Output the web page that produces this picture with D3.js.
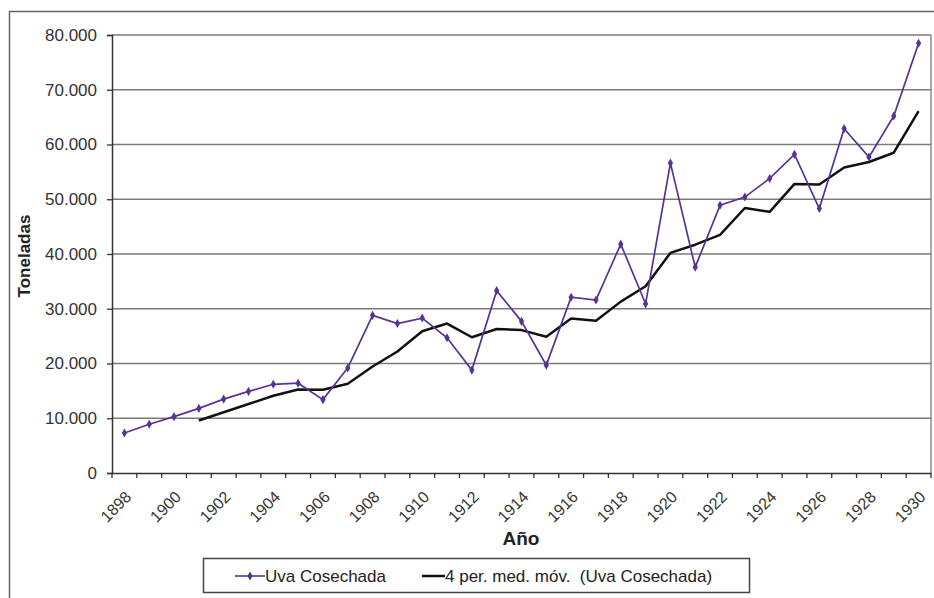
<!DOCTYPE html>
<html><head><meta charset="utf-8">
<script src="https://cdn.jsdelivr.net/npm/d3@7"></script>
<style>body{margin:0;background:#fff}svg{display:block;font-family:"Liberation Sans",Arial,sans-serif}</style>
</head><body><svg id="c" width="934" height="598"></svg>
<script>
const years = d3.range(1898, 1931);
const uva = [7.3,8.9,10.3,11.8,13.5,14.9,16.2,16.4,13.4,19.2,28.8,27.3,28.3,24.7,18.8,33.3,27.7,19.7,32.1,31.6,41.8,30.9,56.6,37.6,48.9,50.4,53.8,58.2,48.3,62.9,57.7,65.2,78.5].map(v=>v*1000);
const media = [null,null,null,9.6,11.1,12.6,14.1,15.25,15.2,16.3,19.45,22.2,25.9,27.3,24.8,26.3,26.1,24.9,28.2,27.8,31.3,34.1,40.2,41.7,43.5,48.4,47.7,52.8,52.7,55.8,56.8,58.5,66.1].map(v=>v==null?null:v*1000);
const yTicks = [0,10000,20000,30000,40000,50000,60000,70000,80000];
const xLabelYears = years.filter(y=>(y-1898)%2===0);
const seriesNames = ["Uva Cosechada","4 per. med. móv.  (Uva Cosechada)"];

const purple = "#573494";
const svg = d3.select("#c");
const L=112, R=931, T=35, B=473;

// outer border
svg.append("rect").attr("x",9.5).attr("y",11.5).attr("width",940).attr("height",600)
  .attr("fill","none").attr("stroke","#666").attr("stroke-width",1.5);

const x = d3.scaleBand().domain(years).range([L,R]);
const y = d3.scaleLinear().domain([0,80000]).range([B,T]);

// gridlines
svg.append("g").selectAll("line").data(yTicks.filter(d=>d>0)).join("line")
  .attr("x1",L).attr("x2",R).attr("y1",d=>y(d)).attr("y2",d=>y(d))
  .attr("stroke","#7a7a7a").attr("stroke-width",1.3);
// right frame
svg.append("line").attr("x1",R).attr("x2",R).attr("y1",T).attr("y2",B).attr("stroke","#7a7a7a").attr("stroke-width",1.3);

// y axis
const fmt = d => d===0 ? "0" : d3.format(",")(d).replace(/,/g,".");
const ya = svg.append("g").attr("transform",`translate(${L},0)`)
  .call(d3.axisLeft(y).tickValues(yTicks).tickFormat(fmt).tickSize(5).tickPadding(10));
ya.select(".domain").attr("stroke","#333").attr("stroke-width",1.5);
ya.selectAll(".tick line").attr("stroke","#333").attr("stroke-width",1.3);
ya.selectAll("text").attr("font-size",17).attr("fill","#333").attr("font-family","Liberation Sans, Arial");

// x axis
const xa = svg.append("g").attr("transform",`translate(0,${B})`)
  .call(d3.axisBottom(x).tickValues([]).tickSize(0));
xa.select(".domain").attr("stroke","#333").attr("stroke-width",1.5);
const tickPos = years.map(yr=>x(yr)).concat([R]);
xa.selectAll(".tk").data(tickPos).join("line").attr("class","tk")
  .attr("x1",d=>d).attr("x2",d=>d).attr("y1",0).attr("y2",5).attr("stroke","#333").attr("stroke-width",1.3);
xa.selectAll(".lbl").data(xLabelYears).join("text").attr("class","lbl")
  .attr("transform",d=>`translate(${x(d)+x.bandwidth()/2+4},${21}) rotate(-45)`)
  .attr("text-anchor","end").attr("dy","0.35em")
  .attr("font-size",16).attr("fill","#333").text(d=>d);

// axis titles
svg.append("text").attr("transform","translate(30,256) rotate(-90)").attr("text-anchor","middle")
  .attr("font-size",17).attr("font-weight","bold").attr("fill","#222").text("Toneladas");
svg.append("text").attr("x",521).attr("y",545).attr("text-anchor","middle")
  .attr("font-size",19).attr("font-weight","bold").attr("fill","#222").text("Año");

const cx = d => x(d)+x.bandwidth()/2;
const line = d3.line().defined(d=>d[1]!=null).x(d=>cx(d[0])).y(d=>y(d[1]));

svg.append("path").datum(years.map((yr,i)=>[yr,media[i]])).attr("d",line)
  .attr("fill","none").attr("stroke","#111").attr("stroke-width",2.5).attr("stroke-linejoin","round");
svg.append("path").datum(years.map((yr,i)=>[yr,uva[i]])).attr("d",line)
  .attr("fill","none").attr("stroke",purple).attr("stroke-width",1.7);
const diamond = d3.symbol().type(d3.symbolDiamond).size(24);
svg.append("g").selectAll("path").data(years.map((yr,i)=>[yr,uva[i]])).join("path")
  .attr("transform",d=>`translate(${cx(d[0])},${y(d[1])})`).attr("d",diamond).attr("fill",purple);

// legend
const lg = svg.append("g");
lg.append("rect").attr("x",203.5).attr("y",558.5).attr("width",546).attr("height",34)
  .attr("fill","#fff").attr("stroke","#444").attr("stroke-width",1.5);
lg.append("line").attr("x1",235).attr("x2",265).attr("y1",576).attr("y2",576).attr("stroke",purple).attr("stroke-width",1.6);
lg.append("path").attr("transform","translate(250,576)").attr("d",diamond).attr("fill",purple);
lg.append("text").attr("x",265).attr("y",582).attr("font-size",17).attr("fill","#222").text(seriesNames[0]);
lg.append("line").attr("x1",422).attr("x2",445).attr("y1",576).attr("y2",576).attr("stroke","#111").attr("stroke-width",2.5);
lg.append("text").attr("x",445).attr("y",582).attr("font-size",17).attr("fill","#222").attr("xml:space","preserve").text(seriesNames[1]);
</script></body></html>
